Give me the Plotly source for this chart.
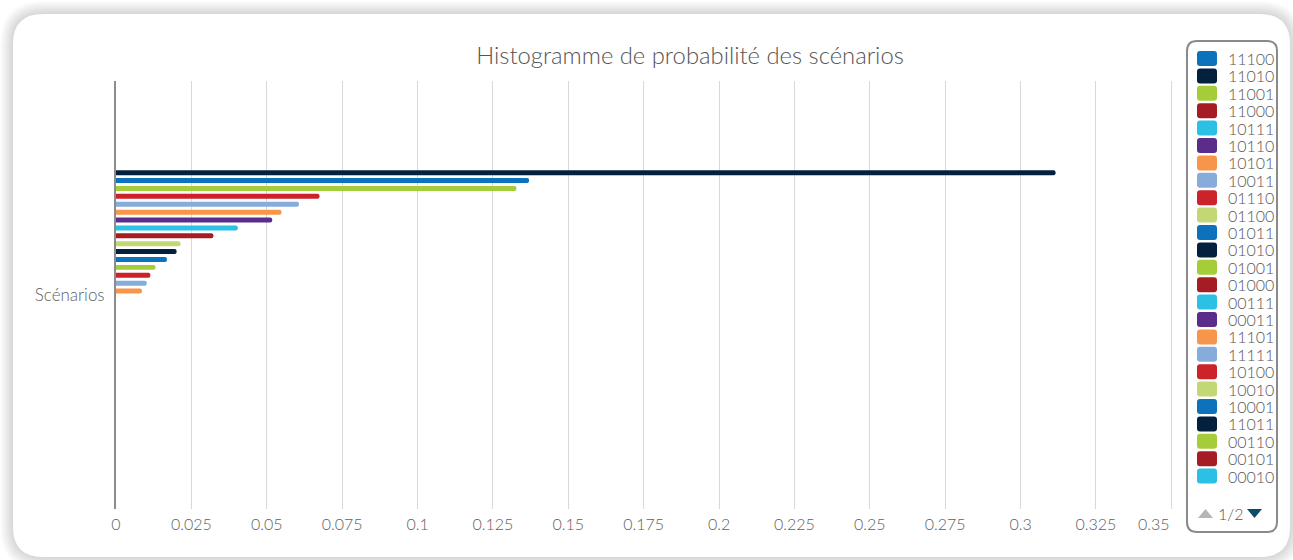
import plotly.graph_objects as go

# ---------------- data ----------------
scenarios = ["11100", "11010", "11001", "11000", "10111", "10110", "10101", "10011",
             "01110", "01100", "01011", "01010", "01001", "01000", "00111", "00011",
             "11101", "11111", "10100", "10010", "10001", "11011", "00110", "00101",
             "00010", "00000", "00001", "00100", "01101", "01111", "10000", "11110"]
probabilities = [0.137, 0.3116, 0.1328, 0.0323, 0.0404, 0.0518, 0.0549, 0.0607,
                 0.0675, 0.0214, 0.0169, 0.0201, 0.0131, 0.0, 0.0, 0.0,
                 0.0086, 0.0102, 0.0114, 0.0, 0.0, 0.0, 0.0, 0.0,
                 0.0, 0.0, 0.0, 0.0, 0.0, 0.0, 0.0, 0.0]
category = "Scénarios"
palette = ["#0b72bb", "#03203d", "#a5cd39", "#a61c24", "#2dc0e5",
           "#5a2d8a", "#f7964a", "#86acdb", "#cc2229", "#c1d875"]
tick_vals = [0, 0.025, 0.05, 0.075, 0.1, 0.125, 0.15, 0.175, 0.2, 0.225,
             0.25, 0.275, 0.3, 0.325, 0.35]
tick_text = ["0", "0.025", "0.05", "0.075", "0.1", "0.125", "0.15", "0.175", "0.2",
             "0.225", "0.25", "0.275", "0.3", "0.325", "0.35"]
title_text = "Histogramme de probabilité des scénarios"
legend_page_size = 25
pager_text = "1/2"

# ---------------- layout geometry (pixels) ----------------
WIDTH, HEIGHT = 1293, 560
L, R, T, B = 116, 1173, 81, 509
PW, PH = R - L, B - T
FONT = "Lato, 'Open Sans', sans-serif"
X_MAX = 0.35


def fx(x):
    return (x - L) / PW


def fy(y):
    return (B - y) / PH


def rrect_path(x0, y0, x1, y1, r):
    pts = [
        ("M", [(x0 + r, y0)]), ("L", [(x1 - r, y0)]), ("Q", [(x1, y0), (x1, y0 + r)]),
        ("L", [(x1, y1 - r)]), ("Q", [(x1, y1), (x1 - r, y1)]),
        ("L", [(x0 + r, y1)]), ("Q", [(x0, y1), (x0, y1 - r)]),
        ("L", [(x0, y0 + r)]), ("Q", [(x0, y0), (x0 + r, y0)]),
    ]
    s = ""
    for cmd, ps in pts:
        s += cmd + " ".join(f"{fx(px):.6f},{fy(py):.6f}" for px, py in ps) + " "
    return s + "Z"


colors = [palette[i % len(palette)] for i in range(len(scenarios))]

fig = go.Figure()
# bottom-to-top: ascending probability so largest is at top of the group
order = sorted(range(len(scenarios)), key=lambda i: (probabilities[i], -i))
for i in order:
    fig.add_trace(go.Bar(
        x=[probabilities[i]], y=[category], orientation="h", name=scenarios[i],
        marker=dict(color=colors[i], cornerradius=3, line=dict(width=0)),
        showlegend=False,
        hovertemplate=f"{scenarios[i]}: %{{x}}<extra></extra>",
    ))

shapes = []
# card shadow
for k in range(13, 0, -1):
    shapes.append(dict(type="path", xref="paper", yref="paper",
                       path=rrect_path(13 - k, 14 - k, 1290 + k, 557 + k, 30 + k),
                       fillcolor="rgba(0,0,0,0.011)", line=dict(width=0), layer="below"))
# card
shapes.append(dict(type="path", xref="paper", yref="paper",
                   path=rrect_path(13, 14, 1290, 557, 30),
                   fillcolor="white", line=dict(width=0), layer="below"))
# legend box
shapes.append(dict(type="path", xref="paper", yref="paper",
                   path=rrect_path(1187, 41, 1277, 532, 10),
                   fillcolor="rgba(0,0,0,0)", line=dict(color="#8a8a8a", width=2), layer="above"))

annotations = []
for i in range(legend_page_size):
    cy = 58.5 + i * 17.4
    shapes.append(dict(type="path", xref="paper", yref="paper",
                       path=rrect_path(1197, cy - 7.5, 1217, cy + 7.5, 3),
                       fillcolor=colors[i], line=dict(width=0), layer="above"))
    annotations.append(dict(xref="paper", yref="paper", x=fx(1226), y=fy(cy),
                            xanchor="left", yanchor="middle", showarrow=False,
                            text=scenarios[i],
                            font=dict(family=FONT, size=16, color="#575757", weight=300)))

# pager
shapes.append(dict(type="path", xref="paper", yref="paper",
                   path=f"M{fx(1198):.6f},{fy(518):.6f} L{fx(1213):.6f},{fy(518):.6f} L{fx(1205.5):.6f},{fy(509):.6f} Z",
                   fillcolor="#b3b5b9", line=dict(width=0), layer="above"))
shapes.append(dict(type="path", xref="paper", yref="paper",
                   path=f"M{fx(1247):.6f},{fy(509):.6f} L{fx(1262):.6f},{fy(509):.6f} L{fx(1254.5):.6f},{fy(518):.6f} Z",
                   fillcolor="#0b4c6b", line=dict(width=0), layer="above"))
annotations.append(dict(xref="paper", yref="paper", x=fx(1231), y=fy(513.5),
                        xanchor="center", yanchor="middle", showarrow=False,
                        text=pager_text,
                        font=dict(family=FONT, size=16, color="#555555", weight=300)))

# last x tick label is right-aligned on its gridline (as in the original)
tick_text_axis = tick_text[:-1] + [""]
annotations.append(dict(xref="x", yref="paper", x=tick_vals[-1], y=fy(523),
                        xanchor="right", yanchor="middle", showarrow=False,
                        text=tick_text[-1], xshift=1,
                        font=dict(family=FONT, size=16, color="#606060", weight=300)))

fig.update_layout(
    width=WIDTH, height=HEIGHT,
    margin=dict(l=L, r=WIDTH - R, t=T, b=HEIGHT - B, autoexpand=False),
    paper_bgcolor="white", plot_bgcolor="rgba(0,0,0,0)",
    barmode="group", bargap=0.41, bargroupgap=0.37,
    title=dict(text=title_text, x=690 / WIDTH, xanchor="center",
               y=1 - 56 / HEIGHT, yanchor="middle",
               font=dict(family=FONT, size=23.8, color="#555555", weight=300)),
    xaxis=dict(range=[0, X_MAX * 1.0016], tickvals=tick_vals, ticktext=tick_text_axis,
               showgrid=True, gridcolor="#d9d9d9", gridwidth=1,
               zeroline=False, showline=False, ticks="", ticklabelstandoff=4,
               tickfont=dict(family=FONT, size=16, color="#606060", weight=300)),
    yaxis=dict(type="category", range=[-0.5, 0.5], showgrid=False, zeroline=False,
               showline=True, linecolor="#8c8c8c", linewidth=2, ticks="",
               ticklabelstandoff=6,
               tickfont=dict(family=FONT, size=17, color="#606060", weight=300)),
    shapes=shapes, annotations=annotations,
    font=dict(family=FONT),
)

fig.write_html("out.html", config={"displayModeBar": False},
               post_script="document.body.style.margin='0';document.body.style.overflow='hidden';")
